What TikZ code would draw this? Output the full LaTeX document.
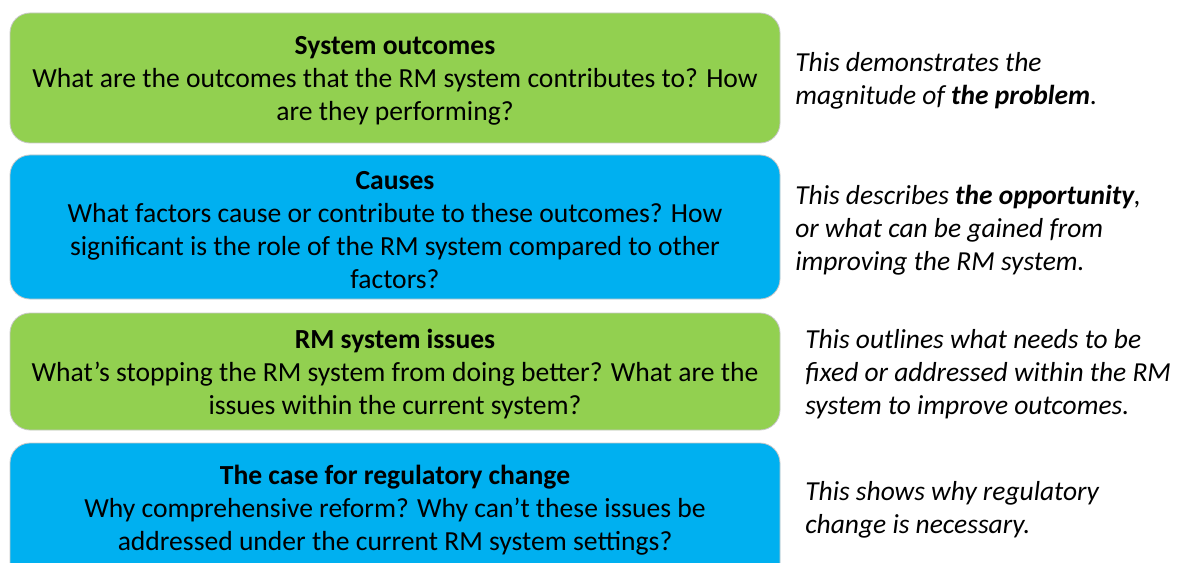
\documentclass[tikz,border=0pt]{standalone}
\usepackage{fontspec}
\setmainfont{Carlito}
\definecolor{boxgreen}{HTML}{92D050}
\definecolor{boxblue}{HTML}{00B0F0}
\tikzset{
  panel/.style={draw=black!22, line width=0.6pt, rounded corners=15pt},
  boxtext/.style={align=center, font=\fontsize{20.7}{24.75}\selectfont, inner sep=0pt},
  sidetext/.style={align=left, anchor=west, font=\fontsize{20.6}{24.75}\selectfont\itshape, inner sep=0pt},
}
\begin{document}
\begin{tikzpicture}[x=0.75pt,y=-0.75pt]
\useasboundingbox (0,0) rectangle (1177,563);
\clip (0,0) rectangle (1177,563);
\fill[white] (0,0) rectangle (1177,563);
% boxes
\filldraw[panel, fill=boxgreen] (10,13) rectangle (780,143);
\filldraw[panel, fill=boxblue] (10,155) rectangle (780,299);
\filldraw[panel, fill=boxgreen] (10,313) rectangle (780,430);
\filldraw[panel, fill=boxblue] (10,443) rectangle (780,590);
% box texts
\node[boxtext] (t1) at (395,81) {\textbf{System outcomes}\\What are the outcomes that the RM system contributes to? How\\are they performing?};
\node[boxtext] (t2) at (395,230) {\textbf{Causes}\\What factors cause or contribute to these outcomes? How\\significant is the role of the RM system compared to other\\factors?};
\node[boxtext] (t3) at (395,374) {\textbf{RM system issues}\\What’s stopping the RM system from doing better? What are the\\issues within the current system?};
\node[boxtext] (t4) at (395,510) {\textbf{The case for regulatory change}\\Why comprehensive reform? Why can’t these issues be\\addressed under the current RM system settings?};
% side texts
\node[sidetext] (s1) at (795,80.5) {This demonstrates the\\magnitude of \textbf{the problem}.};
\node[sidetext] (s2) at (795,230) {This describes \textbf{the opportunity},\\or what can be gained from\\improving the RM system.};
\node[sidetext] (s3) at (805,374) {This outlines what needs to be\\fixed or addressed within the RM\\system to improve outcomes.};
\node[sidetext] (s4) at (805,509.5) {This shows why regulatory\\change is necessary.};
\end{tikzpicture}
\end{document}
